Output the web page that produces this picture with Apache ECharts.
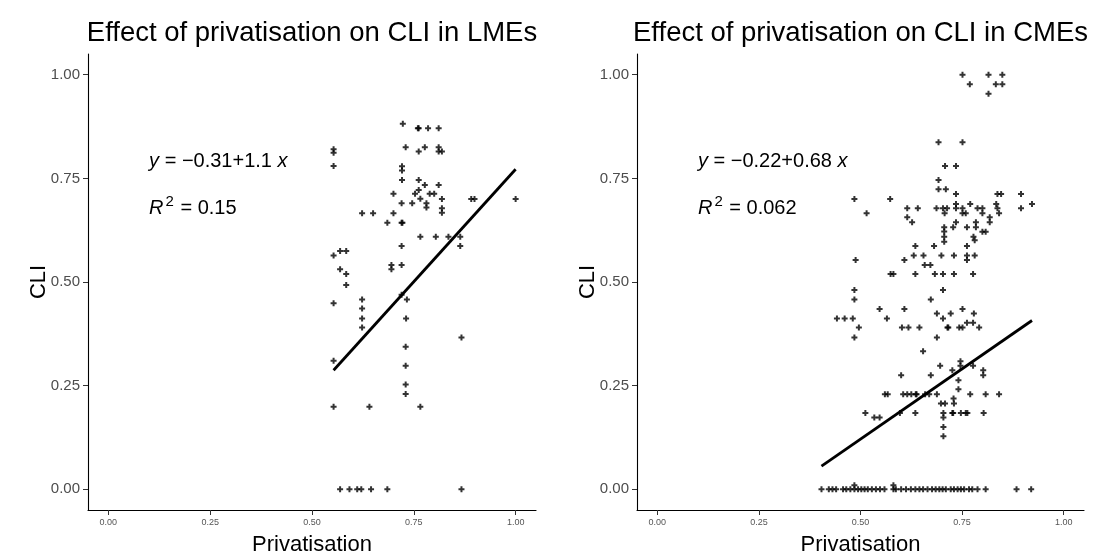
<!DOCTYPE html>
<html>
<head>
<meta charset="utf-8">
<script src="https://cdn.jsdelivr.net/npm/echarts@6/dist/echarts.min.js"></script>
<style>
html, body { margin: 0; padding: 0; background: #ffffff; }
#chart { width: 1095px; height: 559px; }
</style>
</head>
<body>
<div id="chart"></div>
<script>
// Panel titles and axis names
const panelTitles = ['Effect of privatisation on CLI in LMEs', 'Effect of privatisation on CLI in CMEs'];
const xName = 'Privatisation';
const yName = 'CLI';
const tickValues = [0, 0.25, 0.5, 0.75, 1];

// LMEs: privatisation (x) and CLI (y)
const lmeX = [0.723, 0.760, 0.762, 0.785, 0.811, 0.553, 0.553, 0.730, 0.762, 0.777, 0.811, 0.811, 0.819,
  0.553, 0.721, 0.721, 0.721, 0.762, 0.777, 0.811, 0.762, 0.700, 0.753, 0.789, 0.800, 0.766, 0.720, 0.746,
  0.781, 0.781, 0.819, 0.819, 0.819, 0.891, 0.899, 1.000, 0.623, 0.650, 0.700, 0.685, 0.720, 0.722, 0.766,
  0.804, 0.835, 0.864, 0.864, 0.720, 0.553, 0.569, 0.584, 0.569, 0.584, 0.584, 0.695, 0.695, 0.720, 0.553,
  0.623, 0.623, 0.623, 0.623, 0.720, 0.733, 0.731, 0.730, 0.730, 0.730, 0.730, 0.867, 0.553, 0.553, 0.641,
  0.766, 0.569, 0.592, 0.611, 0.621, 0.645, 0.685, 0.867];
const lmeY = [0.882, 0.871, 0.871, 0.871, 0.871, 0.820, 0.812, 0.825, 0.815, 0.825, 0.825, 0.815, 0.815,
  0.780, 0.779, 0.769, 0.746, 0.746, 0.734, 0.734, 0.722, 0.713, 0.713, 0.713, 0.713, 0.701, 0.690, 0.690,
  0.690, 0.680, 0.700, 0.678, 0.667, 0.700, 0.700, 0.700, 0.666, 0.666, 0.666, 0.643, 0.643, 0.643, 0.609,
  0.609, 0.609, 0.609, 0.587, 0.587, 0.564, 0.575, 0.575, 0.531, 0.519, 0.493, 0.541, 0.531, 0.541, 0.449,
  0.458, 0.436, 0.412, 0.390, 0.469, 0.458, 0.412, 0.344, 0.298, 0.253, 0.230, 0.366, 0.310, 0.199, 0.199,
  0.199, 0, 0, 0, 0, 0, 0, 0];

// CMEs: privatisation (x) and CLI (y)
const cmeX = [0.751, 0.815, 0.849, 0.769, 0.833, 0.849, 0.815, 0.692, 0.751, 0.708, 0.735, 0.692, 0.692,
  0.710, 0.735, 0.837, 0.846, 0.895, 0.485, 0.573, 0.515, 0.922, 0.895, 0.615, 0.641, 0.687, 0.703, 0.713,
  0.735, 0.735, 0.751, 0.751, 0.759, 0.770, 0.788, 0.800, 0.800, 0.834, 0.837, 0.841, 0.707, 0.615, 0.627,
  0.818, 0.818, 0.735, 0.728, 0.706, 0.706, 0.706, 0.706, 0.762, 0.784, 0.784, 0.778, 0.781, 0.800, 0.808,
  0.635, 0.681, 0.762, 0.631, 0.655, 0.699, 0.730, 0.762, 0.781,
  0.488, 0.608, 0.762, 0.658, 0.672, 0.574, 0.581, 0.635, 0.683, 0.703, 0.730, 0.777, 0.485, 0.485, 0.703,
  0.673, 0.442, 0.461, 0.481, 0.496, 0.485, 0.547, 0.608, 0.565, 0.602, 0.618, 0.645, 0.688, 0.722, 0.751,
  0.779, 0.703, 0.714, 0.716, 0.743, 0.751, 0.762, 0.777, 0.792, 0.688, 0.654, 0.696, 0.746, 0.746, 0.726,
  0.741, 0.741, 0.777, 0.802, 0.802, 0.673, 0.600, 0.560, 0.567, 0.605, 0.615, 0.625, 0.636, 0.638, 0.659,
  0.669, 0.688, 0.729, 0.730, 0.770, 0.808, 0.841, 0.698, 0.708, 0.512, 0.534, 0.547, 0.597, 0.635, 0.704,
  0.726, 0.728, 0.747, 0.759, 0.763, 0.803, 0.704, 0.704, 0.704,
  0.404, 0.422, 0.431, 0.440, 0.457, 0.465, 0.475, 0.485, 0.494, 0.502, 0.510, 0.518, 0.528, 0.538, 0.548,
  0.559, 0.581, 0.587, 0.600, 0.612, 0.624, 0.635, 0.645, 0.654, 0.665, 0.676, 0.685, 0.694, 0.702, 0.710,
  0.722, 0.730, 0.739, 0.747, 0.755, 0.767, 0.775, 0.788, 0.808, 0.884, 0.920, 0.485, 0.581];
const cmeY = [1.000, 1.000, 1.000, 0.977, 0.977, 0.977, 0.954, 0.837, 0.837, 0.780, 0.780, 0.746, 0.724,
  0.724, 0.712, 0.712, 0.712, 0.712, 0.700, 0.700, 0.666, 0.688, 0.678, 0.678, 0.678, 0.678, 0.678, 0.678,
  0.688, 0.678, 0.678, 0.666, 0.666, 0.688, 0.678, 0.678, 0.666, 0.688, 0.678, 0.666, 0.666, 0.656, 0.644,
  0.656, 0.644, 0.644, 0.632, 0.632, 0.622, 0.609, 0.597, 0.632, 0.632, 0.644, 0.609, 0.601, 0.621, 0.621,
  0.587, 0.587, 0.587, 0.564, 0.564, 0.564, 0.564, 0.564, 0.564,
  0.553, 0.553, 0.553, 0.541, 0.541, 0.519, 0.519, 0.519, 0.519, 0.519, 0.519, 0.519, 0.481, 0.458, 0.481,
  0.458, 0.412, 0.412, 0.412, 0.390, 0.366, 0.435, 0.435, 0.412, 0.390, 0.390, 0.390, 0.424, 0.424, 0.435,
  0.424, 0.412, 0.390, 0.390, 0.390, 0.390, 0.402, 0.402, 0.390, 0.366, 0.333, 0.298, 0.309, 0.298, 0.287,
  0.263, 0.241, 0.298, 0.287, 0.275, 0.275, 0.275, 0.229, 0.229, 0.229, 0.229, 0.229, 0.229, 0.229, 0.229,
  0.229, 0.229, 0.219, 0.207, 0.229, 0.229, 0.229, 0.207, 0.207, 0.184, 0.173, 0.173, 0.184, 0.184, 0.184,
  0.184, 0.184, 0.184, 0.184, 0.184, 0.184, 0.173, 0.150, 0.128,
  0, 0, 0, 0, 0, 0, 0, 0, 0, 0, 0, 0, 0, 0, 0,
  0, 0, 0, 0, 0, 0, 0, 0, 0, 0, 0, 0, 0, 0, 0,
  0, 0, 0, 0, 0, 0, 0, 0, 0, 0, 0, 0.010, 0.010];

// Least-squares fits (intercept, slope) and R squared
const fitIntercept = [-0.313, -0.218];
const fitSlope = [1.085, 0.678];
const rSquared = ['0.15', '0.062'];

const FONT = '"Liberation Sans", Arial, sans-serif';
const plusSymbol = 'path://M3,0h3v3h3v3h-3v3h-3v-3h-3v-3h3z';

const grids = [
  { left: 88, top: 54, width: 448, height: 456, outerBoundsMode: 'none', containLabel: false },
  { left: 637, top: 54, width: 447, height: 456, outerBoundsMode: 'none', containLabel: false }
];

function pairs(xs, ys) { return xs.map((x, i) => [x, ys[i]]); }
function fitLine(k, xs) {
  const lo = Math.min(...xs), hi = Math.max(...xs);
  return [[lo, fitIntercept[k] + fitSlope[k] * lo], [hi, fitIntercept[k] + fitSlope[k] * hi]];
}

function xAxisFor(k) {
  return {
    type: 'value', gridIndex: k, min: -0.05, max: 1.05,
    name: xName, nameLocation: 'middle', nameGap: 24, nameMoveOverlap: false,
    nameTextStyle: { fontFamily: FONT, fontSize: 22, color: '#000' },
    splitLine: { show: false },
    axisLine: { show: true, onZero: false, lineStyle: { color: '#000', width: 1.1 } },
    axisTick: { show: true, length: 5, customValues: tickValues, lineStyle: { color: '#333', width: 1 } },
    axisLabel: { customValues: tickValues, fontFamily: FONT, fontSize: 9, color: '#555', margin: 8,
      formatter: v => v.toFixed(2) }
  };
}
function yAxisFor(k) {
  return {
    type: 'value', gridIndex: k, min: -0.05, max: 1.05,
    name: yName, nameLocation: 'middle', nameGap: 38, nameRotate: 90, nameMoveOverlap: false,
    nameTextStyle: { fontFamily: FONT, fontSize: 22, color: '#000' },
    splitLine: { show: false },
    axisLine: { show: true, onZero: false, lineStyle: { color: '#000', width: 1.1 } },
    axisTick: { show: true, length: 5, customValues: tickValues, lineStyle: { color: '#333', width: 1 } },
    axisLabel: { customValues: tickValues, fontFamily: FONT, fontSize: 15, color: '#4d4d4d', margin: 8,
      formatter: v => v.toFixed(2) }
  };
}

const datasetsX = [lmeX, cmeX];
const datasetsY = [lmeY, cmeY];

const series = [];
[0, 1].forEach(k => {
  series.push({
    type: 'scatter', xAxisIndex: k, yAxisIndex: k,
    data: pairs(datasetsX[k], datasetsY[k]),
    symbol: plusSymbol, symbolSize: 6,
    itemStyle: { color: '#000' }, silent: true, z: 3
  });
  series.push({
    type: 'line', xAxisIndex: k, yAxisIndex: k,
    data: fitLine(k, datasetsX[k]),
    showSymbol: false, symbol: 'none', silent: true,
    lineStyle: { color: '#000', width: 2.8 }, z: 4
  });
});

const chart = echarts.init(document.getElementById('chart'), null, { renderer: 'canvas' });
chart.setOption({
  animation: false,
  backgroundColor: '#ffffff',
  title: [0, 1].map(k => ({
    text: panelTitles[k],
    left: grids[k].left + grids[k].width / 2, top: 19, textAlign: 'center', padding: 0,
    textStyle: { fontFamily: FONT, fontSize: 27.5, fontWeight: 'normal', color: '#000' }
  })),
  grid: grids,
  xAxis: [xAxisFor(0), xAxisFor(1)],
  yAxis: [yAxisFor(0), yAxisFor(1)],
  series: series
});

// Regression equation and R squared labels, anchored in data coordinates
function fmt(v) { return Number(v).toPrecision(2).replace('-', '\u2212'); }
const eqRich = {
  i: { fontFamily: FONT, fontSize: 20, fontStyle: 'italic', color: '#000', lineHeight: 28 },
  n: { fontFamily: FONT, fontSize: 20, color: '#000', lineHeight: 28 },
  s: { fontFamily: FONT, fontSize: 15, color: '#000', lineHeight: 28, verticalAlign: 'top', padding: [0, 1, 0, 2] }
};
const graphics = [];
[0, 1].forEach(k => {
  const p1 = chart.convertToPixel({ gridIndex: k }, [0.10, 0.79]);
  const p2 = chart.convertToPixel({ gridIndex: k }, [0.10, 0.677]);
  graphics.push({
    type: 'text', x: p1[0], y: p1[1], silent: true,
    style: {
      text: '{i|y}{n| = ' + fmt(fitIntercept[k]) + '+' + fmt(fitSlope[k]) + ' }{i|x}',
      rich: eqRich, verticalAlign: 'middle', align: 'left'
    }
  });
  graphics.push({
    type: 'text', x: p2[0], y: p2[1], silent: true,
    style: {
      text: '{i|R}{s|2}{n| = ' + rSquared[k] + '}',
      rich: eqRich, verticalAlign: 'middle', align: 'left'
    }
  });
});
chart.setOption({ graphic: graphics });
</script>
</body>
</html>
